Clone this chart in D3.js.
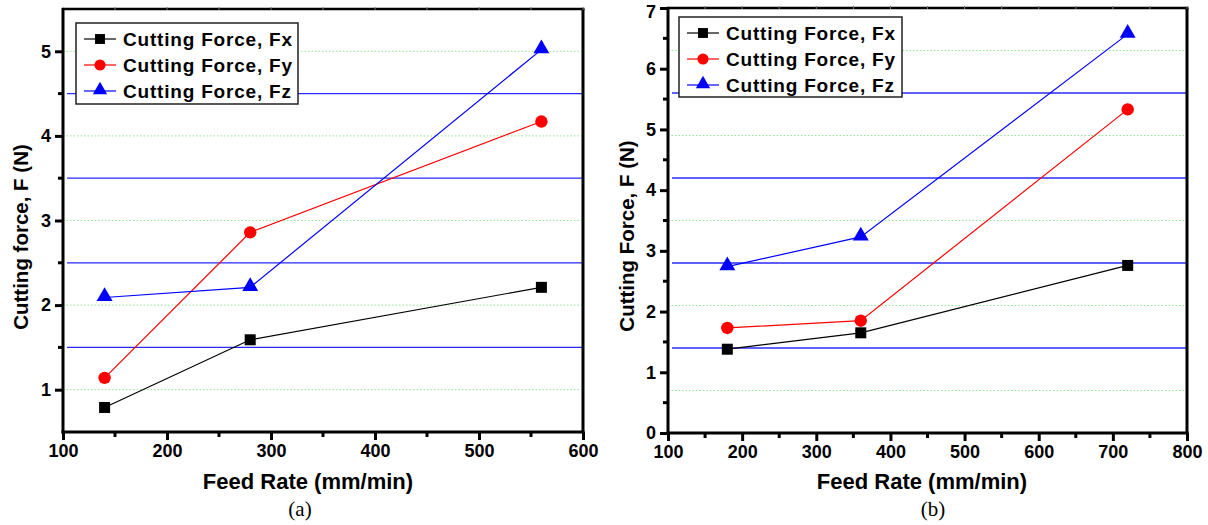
<!DOCTYPE html>
<html>
<head>
<meta charset="utf-8">
<script src="https://cdn.jsdelivr.net/npm/d3@7"></script>
<style>
  body { margin: 0; background: #fff; }
  svg text { font-family: "Liberation Sans", Arial, sans-serif; }
</style>
</head>
<body>
<svg id="chart" width="1208" height="525"></svg>
<script>
// series names
var seriesNames = ["Cutting Force, Fx", "Cutting Force, Fy", "Cutting Force, Fz"];
var seriesColors = ["#000000", "#ff0000", "#0000ff"];

// panel (a)
var feedA = [140, 280, 560];
var fxA = [0.79, 1.59, 2.21];
var fyA = [1.14, 2.86, 4.17];
var fzA = [2.09, 2.21, 5.02];
var xTicksA = [100, 200, 300, 400, 500, 600];
var xMinorA = [150, 250, 350, 450, 550];
var yTicksA = [1, 2, 3, 4, 5];
var yMinorA = [1.5, 2.5, 3.5, 4.5];
var gridGreenA = [1, 2, 3, 4, 5];
var gridBlueA = [1.5, 2.5, 3.5, 4.5];

// panel (b)
var feedB = [180, 360, 720];
var fxB = [1.38, 1.65, 2.76];
var fyB = [1.73, 1.85, 5.33];
var fzB = [2.74, 3.23, 6.57];
var xTicksB = [100, 200, 300, 400, 500, 600, 700, 800];
var xMinorB = [150, 250, 350, 450, 550, 650, 750];
var yTicksB = [0, 1, 2, 3, 4, 5, 6, 7];
var yMinorB = [0.5, 1.5, 2.5, 3.5, 4.5, 5.5, 6.5];
var gridGreenB = [0.7, 2.1, 3.5, 4.9, 6.3];
var gridBlueB = [1.4, 2.8, 4.2, 5.6];

var svg = d3.select("#chart");

function drawPanel(p) {
  var g = svg.append("g");
  var x = d3.scaleLinear().domain(p.xDomain).range([p.left, p.right]);
  var y = d3.scaleLinear().domain(p.yDomain).range([p.bottom, p.top]);

  // grid lines
  g.selectAll(".gg").data(p.gridGreen).enter().append("line")
      .attr("x1", p.left).attr("x2", p.right)
      .attr("y1", function(d) { return y(d); }).attr("y2", function(d) { return y(d); })
      .style("stroke", "#8fe88f").style("stroke-width", 1)
      .style("stroke-dasharray", "1.5,2");
  g.selectAll(".gb").data(p.gridBlue).enter().append("line")
      .attr("x1", p.left + 4).attr("x2", p.right)
      .attr("y1", function(d) { return y(d); }).attr("y2", function(d) { return y(d); })
      .style("stroke", "#2a2aff").style("stroke-width", 1.3);

  // top & right frame with small ticks
  g.append("line").attr("x1", p.left).attr("x2", p.right + 1.5)
      .attr("y1", p.top).attr("y2", p.top)
      .style("stroke", "#000").style("stroke-width", 2.5);
  g.append("line").attr("x1", p.right).attr("x2", p.right)
      .attr("y1", p.top).attr("y2", p.bottom)
      .style("stroke", "#000").style("stroke-width", 3);
  g.selectAll(".tt").data(p.xTicks.concat(p.xMinor)).enter().append("line")
      .attr("x1", function(d) { return x(d); }).attr("x2", function(d) { return x(d); })
      .attr("y1", p.top - 2).attr("y2", p.top + 1)
      .style("stroke", "#777").style("stroke-width", 1);

  // bottom axis
  var xAxis = g.append("g").attr("transform", "translate(0," + p.bottom + ")")
      .call(d3.axisBottom(x).tickValues(p.xTicks).tickSize(8).tickPadding(4).tickFormat(d3.format("d")));
  xAxis.selectAll(".tick text").style("font-size", "18px").style("font-weight", "bold").style("fill", "#000");
  xAxis.selectAll(".tick line").style("stroke-width", 3);
  xAxis.select(".domain").remove();
  g.selectAll(".xm").data(p.xMinor).enter().append("line")
      .attr("x1", function(d) { return x(d); }).attr("x2", function(d) { return x(d); })
      .attr("y1", p.bottom).attr("y2", p.bottom + 5)
      .style("stroke", "#000").style("stroke-width", 3);
  g.append("line").attr("x1", p.left - 1.5).attr("x2", p.right + 1.5)
      .attr("y1", p.bottom).attr("y2", p.bottom)
      .style("stroke", "#000").style("stroke-width", 3);

  // left axis
  var yAxis = g.append("g").attr("transform", "translate(" + p.left + ",0)")
      .call(d3.axisLeft(y).tickValues(p.yTicks).tickSize(8).tickPadding(4).tickFormat(d3.format("d")));
  yAxis.selectAll(".tick text").style("font-size", "18px").style("font-weight", "bold").style("fill", "#000")
      .attr("dy", function(d) { return y(d) < 12 ? "0.55em" : "0.32em"; });
  yAxis.selectAll(".tick line").style("stroke-width", 3);
  yAxis.select(".domain").remove();
  g.selectAll(".ym").data(p.yMinor).enter().append("line")
      .attr("x1", p.left - 5).attr("x2", p.left)
      .attr("y1", function(d) { return y(d); }).attr("y2", function(d) { return y(d); })
      .style("stroke", "#000").style("stroke-width", 3);
  g.append("line").attr("x1", p.left).attr("x2", p.left)
      .attr("y1", p.top - 1).attr("y2", p.bottom + 1.5)
      .style("stroke", "#000").style("stroke-width", 3);

  // series
  var line = d3.line().x(function(d) { return x(d[0]); }).y(function(d) { return y(d[1]); });
  p.series.forEach(function(vals, i) {
    var pts = p.feed.map(function(f, j) { return [f, vals[j]]; });
    g.append("path").datum(pts).attr("d", line)
        .style("fill", "none").style("stroke", seriesColors[i]).style("stroke-width", 1.2);
    pts.forEach(function(d) { marker(g, i, x(d[0]), y(d[1]), 1); });
  });

  // legend
  var lg = g.append("g").attr("transform", "translate(" + p.legX + "," + p.legY + ")");
  lg.append("rect").attr("width", p.legW).attr("height", p.legH)
      .style("fill", "#fff").style("stroke", "#222").style("stroke-width", 1.5);
  seriesNames.forEach(function(name, i) {
    var ry = 16 + i * 26;
    lg.append("line").attr("x1", 8).attr("x2", 40).attr("y1", ry).attr("y2", ry)
        .style("stroke", seriesColors[i]).style("stroke-width", 1.2);
    marker(lg, i, 24, ry, 0.9);
    lg.append("text").attr("x", 47).attr("y", ry + 7)
        .style("font-size", "19px").style("font-weight", "bold")
        .style("letter-spacing", "0.8px").text(name);
  });

  // axis titles
  g.append("text").attr("x", p.xLabelX).attr("y", 489).attr("text-anchor", "middle")
      .style("font-size", "22px").style("font-weight", "bold").text("Feed Rate (mm/min)");
  g.append("text").attr("transform", "translate(" + p.yLabelX + "," + p.yLabelY + ") rotate(-90)")
      .attr("text-anchor", "middle")
      .style("font-size", "20.5px").style("font-weight", "bold").text(p.yLabel);
  g.append("text").attr("x", p.capX).attr("y", 516).attr("text-anchor", "middle")
      .style("font-family", "'Liberation Serif', 'Times New Roman', serif")
      .style("font-size", "21px").text(p.caption);
}

function marker(g, i, cx, cy, s) {
  if (i === 0) {
    g.append("rect").attr("x", cx - 5.5 * s).attr("y", cy - 5.5 * s)
        .attr("width", 11 * s).attr("height", 11 * s).style("fill", "#000");
  } else if (i === 1) {
    g.append("circle").attr("cx", cx).attr("cy", cy).attr("r", 6.2 * s).style("fill", "#ff0000");
  } else {
    g.append("path").attr("d", d3.symbol().type(d3.symbolTriangle).size(110 * s * s)())
        .attr("transform", "translate(" + cx + "," + (cy - 1) + ")").style("fill", "#0000ff");
  }
}

drawPanel({
  left: 63, right: 583, top: 9, bottom: 432,
  xDomain: [100, 600], yDomain: [0.5, 5.5],
  xTicks: xTicksA, xMinor: xMinorA, yTicks: yTicksA, yMinor: yMinorA,
  gridGreen: gridGreenA, gridBlue: gridBlueA,
  feed: feedA, series: [fxA, fyA, fzA],
  legX: 76, legY: 23, legW: 222, legH: 81,
  xLabelX: 308, yLabelX: 28, yLabelY: 237, yLabel: "Cutting force, F (N)",
  capX: 300, caption: "(a)"
});

drawPanel({
  left: 668, right: 1187, top: 8, bottom: 433,
  xDomain: [100, 800], yDomain: [0, 7],
  xTicks: xTicksB, xMinor: xMinorB, yTicks: yTicksB, yMinor: yMinorB,
  gridGreen: gridGreenB, gridBlue: gridBlueB,
  feed: feedB, series: [fxB, fyB, fzB],
  legX: 679, legY: 17, legW: 223, legH: 80,
  xLabelX: 922, yLabelX: 634, yLabelY: 236, yLabel: "Cutting Force, F (N)",
  capX: 933, caption: "(b)"
});
</script>
</body>
</html>
